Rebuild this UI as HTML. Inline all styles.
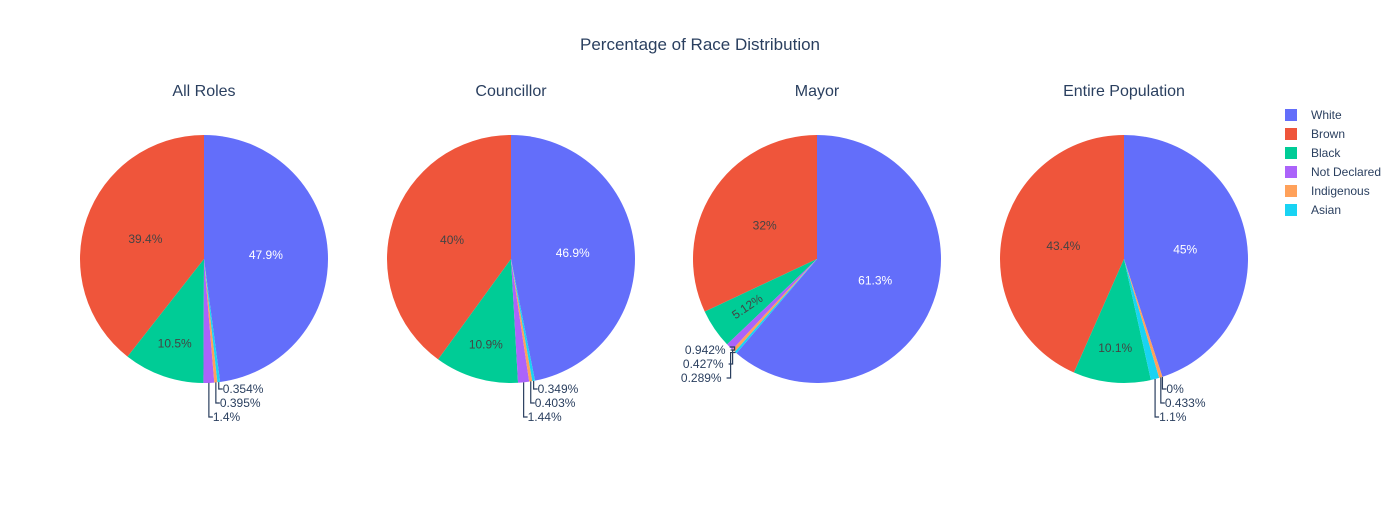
<!DOCTYPE html>
<html><head><meta charset="utf-8"><style>
body{margin:0;background:#fff;font-family:"Liberation Sans",Arial,sans-serif;}
svg text{font-family:"Liberation Sans",Arial,sans-serif;}
</style></head><body>
<svg id="chart" width="1400" height="500" xmlns="http://www.w3.org/2000/svg">
<rect width="1400" height="500" fill="#fff"/>
<text x="700" y="50" text-anchor="middle" font-size="17" fill="#2a3f5f">Percentage of Race Distribution</text>
<g id="pies"></g>
<g id="legend"></g>
</svg>
<script>
const categories = ["White","Brown","Black","Not Declared","Indigenous","Asian"];
const colors = ["#636efa","#EF553B","#00cc96","#ab63fa","#FFA15A","#19d3f3"];
const panelTitles = ["All Roles","Councillor","Mayor","Entire Population"];
const allRoles = [47.9,39.4,10.5,1.4,0.395,0.354];
const councillor = [46.9,40,10.9,1.44,0.403,0.349];
const mayor = [61.3,32,5.12,0.942,0.427,0.289];
const population = [45,43.4,10.1,0,0.433,1.1];
const panels = [allRoles,councillor,mayor,population];

const NS="http://www.w3.org/2000/svg";
function mk(tag,attrs,parent){const e=document.createElementNS(NS,tag);for(const k in attrs)e.setAttribute(k,attrs[k]);parent.appendChild(e);return e;}
function fmt(v){return (Math.round(v*1000)/1000).toString()+"%";}
const pies=document.getElementById('pies');
const centersX=[204,511,817,1124], cy=259, R=124;
function pt(cx,a,r){return [cx+r*Math.sin(a), cy-r*Math.cos(a)];}

panels.forEach((vals,p)=>{
  const cx=centersX[p];
  const g=mk('g',{},pies);
  
  
  const t=mk('text',{x:cx,y:96,'text-anchor':'middle','font-size':16,fill:'#2a3f5f'},g);
  
  
  t.textContent=panelTitles[p];
  const total=vals.reduce((a,b)=>a+b,0);
  const order=vals.map((v,i)=>i).sort((a,b)=>vals[b]-vals[a]);
  let cur=2*Math.PI*vals[order[0]]/total;
  const slices=[];
  order.forEach(i=>{
    const frac=vals[i]/total, sweep=frac*2*Math.PI;
    const a1=cur, a0=cur-sweep; cur=a0;
    slices.push({i,a0,a1,frac});
  });
  const outs=[];
  slices.forEach(s=>{
    const [x0,y0]=pt(cx,s.a0,R),[x1,y1]=pt(cx,s.a1,R);
    const large=(s.a1-s.a0)>Math.PI?1:0;
    if(s.frac>0){
      const path=mk('path',{d:`M${cx},${cy} L${x0},${y0} A${R},${R} 0 ${large} 1 ${x1},${y1} Z`,fill:colors[s.i]},g);
      
      
    }
    const mid=(s.a0+s.a1)/2;
    if(s.frac>0.03){
      const f=s.frac>0.2?0.5:(s.frac>0.08?0.72:0.68);
      const [lx,ly]=pt(cx,mid,R*f);
      const tx=mk('text',{x:lx,y:ly+4,'text-anchor':'middle','font-size':12,fill:s.i===0?'#fff':'#444'},g);
      
      
      if(s.frac<0.08){
        let deg=Math.atan2(-Math.cos(mid),Math.sin(mid))*180/Math.PI;
        while(deg>90)deg-=180; while(deg<-90)deg+=180;
        tx.setAttribute('transform',`rotate(${deg} ${lx} ${ly})`);
      }
      tx.textContent=fmt(vals[s.i]);
    } else outs.push({s,mid});
  });
  const pts=outs.map(o=>{const [ex,ey]=pt(cx,o.mid,R);return {o,ex,ey};});
  const leftSide = pts.length && pts[0].ex < cx-40;
  if(leftSide){
    pts.sort((a,b)=>a.ey-b.ey);
    const vx=Math.max(...pts.map(q=>q.ex))-1;
    pts.forEach((q,k)=>{
      const labY=cy+91+14*k;
      const lx=vx-4-2*k;
      const line=mk('polyline',{points:`${q.ex},${q.ey} ${vx-2*k},${q.ey} ${vx-2*k},${labY} ${lx},${labY}`,fill:'none',stroke:'#2a3f5f','stroke-width':1.2},g);
      
      
      const tx=mk('text',{x:lx-5,y:labY+4,'text-anchor':'end','font-size':12,fill:'#2a3f5f'},g);
      
      
      tx.textContent=fmt(vals[q.o.s.i]);
    });
  } else {
    pts.reverse();
    pts.forEach((q,k)=>{
      const ly=cy+R+6+14*k;
      const vx=q.ex;
      const lx=vx+4;
      const line=mk('polyline',{points:`${q.ex},${q.ey} ${vx},${ly} ${lx},${ly}`,fill:'none',stroke:'#2a3f5f','stroke-width':1.2},g);
      
      
      const tx=mk('text',{x:lx,y:ly+4,'text-anchor':'start','font-size':12,fill:'#2a3f5f'},g);
      
      
      tx.textContent=fmt(vals[q.o.s.i]);
    });
  }
});
const lg=document.getElementById('legend');


categories.forEach((c,i)=>{
  const y=115+19*i;
  const it=mk('g',{},lg);
  
  
  mk('rect',{x:1285,y:y-6,width:12,height:12,fill:colors[i]},it);
  const t=mk('text',{x:1311,y:y+4,'font-size':12,fill:'#2a3f5f'},it);
  t.textContent=c;
});
</script>
</body></html>
